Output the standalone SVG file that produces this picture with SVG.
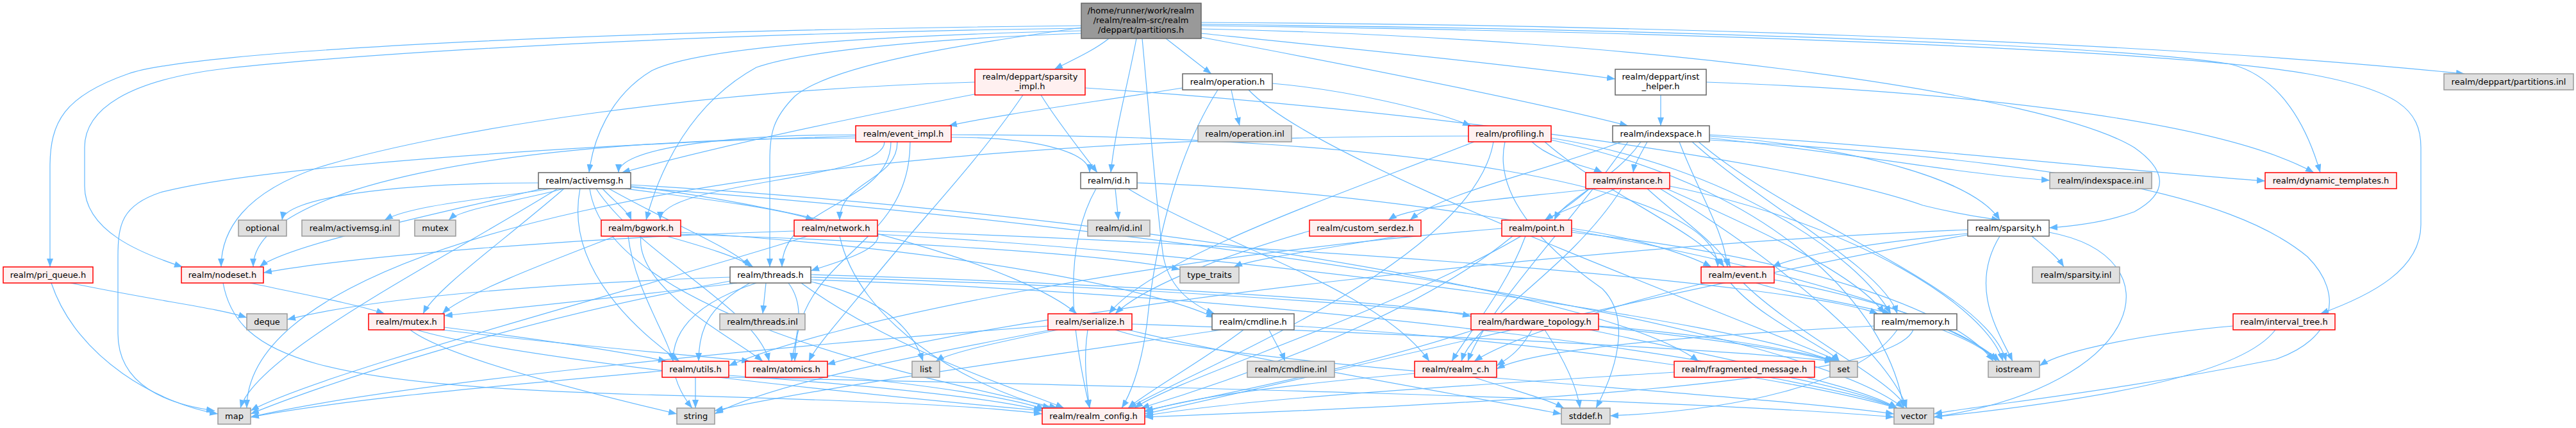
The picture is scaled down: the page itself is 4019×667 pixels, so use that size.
<svg xmlns="http://www.w3.org/2000/svg" width="4019" height="667" viewBox="0 0 4019 667">
<style>
.e{fill:none;stroke:#63B8FF;stroke-width:1.2;marker-end:url(#ah)}
.n rect{fill:#FFF0F0;stroke:#FF0000;stroke-width:1.5}
.w rect{fill:#FFFFFF;stroke:#666666;stroke-width:1.5}
.g rect{fill:#E0E0E0;stroke:#999999;stroke-width:1.5}
.m rect{fill:#999999;stroke:#666666;stroke-width:1.5}
text{font-family:"DejaVu Sans","Liberation Sans",sans-serif;font-size:13px;fill:#000;text-anchor:middle}
</style>
<defs>
<marker id="ah" markerWidth="13" markerHeight="10" refX="13" refY="5" orient="auto" markerUnits="userSpaceOnUse"><path d="M0,0 L13,5 L0,10 z" fill="#63B8FF"/></marker>
</defs>
<rect width="4019" height="667" fill="#FFFFFF"/>
<g id="edges">
<path class="e" d="M1687,40 C900,48 300,80 200,115 C100,150 78,190 78,260 L78,416"/>
<path class="e" d="M1687,44 C1100,52 600,80 350,107 C200,125 132,170 132,230 L132,290 C132,360 220,395 285,416"/>
<path class="e" d="M1687,48 C1400,55 1100,70 1017,110 C950,150 925,220 919,269"/>
<path class="e" d="M1687,52 C1450,60 1250,80 1180,105 C1080,160 1030,260 1008,343"/>
<path class="e" d="M1687,43 C1500,70 1300,100 1240,150 C1205,185 1201,210 1201,250 L1201,416"/>
<path class="e" d="M1730,60 C1705,80 1670,95 1645,108"/>
<path class="e" d="M1773,60 C1760,130 1740,200 1733,269"/>
<path class="e" d="M1782,60 C1795,200 1805,330 1815,400 C1825,450 1860,475 1895,489"/>
<path class="e" d="M1819,60 C1845,80 1870,100 1890,115"/>
<path class="e" d="M1874,52 C2100,75 2350,100 2520,123"/>
<path class="e" d="M1874,58 C2150,110 2400,160 2540,196"/>
<path class="e" d="M1874,35 C2500,38 3300,60 3845,115"/>
<path class="e" d="M1874,38 C2600,45 3300,70 3480,100 C3560,120 3600,200 3620,269"/>
<path class="e" d="M1874,40 C2700,50 3400,80 3600,115 C3740,140 3777,170 3777,230 L3777,350 C3777,420 3700,460 3620,489"/>
<path class="e" d="M1874,45 C2600,60 3200,150 3330,230 C3380,265 3385,300 3330,330 C3290,345 3240,352 3197,355"/>
<path class="e" d="M1521,128 C1100,140 700,200 500,260 C380,300 345,360 345,416"/>
<path class="e" d="M1525,146 C1400,170 1150,220 970,269"/>
<path class="e" d="M1624,148 C1650,190 1690,240 1712,269"/>
<path class="e" d="M1596,148 C1520,260 1420,360 1350,450 C1300,510 1270,545 1262,563"/>
<path class="e" d="M1693,137 C2200,170 2800,250 3000,320 C3060,335 3100,340 3120,343"/>
<path class="e" d="M1845,137 C1700,160 1550,180 1480,196"/>
<path class="e" d="M1921,140 C1925,160 1930,180 1934,196"/>
<path class="e" d="M1985,130 C2100,140 2230,170 2295,196"/>
<path class="e" d="M1900,140 C1830,250 1800,400 1790,500 C1780,580 1760,620 1750,636"/>
<path class="e" d="M1948,140 C2050,250 2600,450 2870,563"/>
<path class="e" d="M2591,148 L2591,196"/>
<path class="e" d="M2662,128 C3000,140 3450,180 3610,269"/>
<path class="e" d="M1335,212 C900,225 400,260 250,300 C190,320 184,350 184,400 L184,520 C184,600 260,630 335,640"/>
<path class="e" d="M1335,215 C771,215 395,295 395,416"/>
<path class="e" d="M1335,210 C1113,210 965,234 965,269"/>
<path class="e" d="M1380,221 C1380,282 1030,282 1030,343"/>
<path class="e" d="M1400,221 C1400,282 1310,282 1310,343"/>
<path class="e" d="M1390,221 C1390,318 1220,318 1220,416"/>
<path class="e" d="M1484,214 C1614,214 1700,236 1700,269"/>
<path class="e" d="M1484,210 C2202,210 2680,292 2680,416"/>
<path class="e" d="M1420,221 C1420,392 1240,392 1240,563"/>
<path class="e" d="M2390,221 C2420,250 2480,260 2500,269"/>
<path class="e" d="M2410,221 C2500,300 2650,360 2690,416"/>
<path class="e" d="M2420,215 C2700,260 2900,400 2950,489"/>
<path class="e" d="M2300,221 C2100,300 1800,400 1730,489"/>
<path class="e" d="M2330,221 C2300,400 1900,560 1760,636"/>
<path class="e" d="M2420,218 C2800,300 2950,500 2970,636"/>
<path class="e" d="M2291,212 C1147,212 385,382 385,636"/>
<path class="e" d="M2348,221 C2330,300 2400,380 2500,450 C2540,490 2530,560 2490,636"/>
<path class="e" d="M2570,221 C2560,240 2550,255 2548,269"/>
<path class="e" d="M2530,221 C2400,270 2250,300 2200,343"/>
<path class="e" d="M2560,221 C2520,280 2440,310 2425,343"/>
<path class="e" d="M2620,221 C2650,300 2690,360 2695,416"/>
<path class="e" d="M2640,221 C2750,320 2940,420 2960,489"/>
<path class="e" d="M2540,221 C2450,350 2320,480 2290,563"/>
<path class="e" d="M2667,212 C2900,230 3080,280 3120,343"/>
<path class="e" d="M2667,210 C3000,230 3300,265 3534,282"/>
<path class="e" d="M2667,215 C2900,240 3050,270 3198,281"/>
<path class="e" d="M2667,218 C3200,250 3480,300 3600,400 C3660,460 3640,530 3550,560 C3300,610 3100,630 3017,645"/>
<path class="e" d="M2650,221 C2800,350 3100,450 3130,563"/>
<path class="e" d="M840,285 C600,285 445,310 440,343"/>
<path class="e" d="M860,294 C760,310 640,320 600,343"/>
<path class="e" d="M880,294 C800,315 720,325 700,343"/>
<path class="e" d="M845,294 C700,330 450,380 405,416"/>
<path class="e" d="M880,294 C780,380 680,450 660,489"/>
<path class="e" d="M940,294 C960,315 980,330 985,343"/>
<path class="e" d="M975,294 C1100,310 1220,325 1270,343"/>
<path class="e" d="M950,294 C1050,350 1150,390 1170,416"/>
<path class="e" d="M930,294 C1000,400 1180,480 1200,563"/>
<path class="e" d="M905,294 C880,420 1000,520 1060,563"/>
<path class="e" d="M984,290 C1300,330 1600,420 1680,489"/>
<path class="e" d="M920,294 C950,500 1500,600 1650,636"/>
<path class="e" d="M984,288 C1700,330 2500,450 2650,563"/>
<path class="e" d="M870,294 C700,400 400,550 375,636"/>
<path class="e" d="M984,292 C1800,350 2800,500 2970,636"/>
<path class="e" d="M1740,294 L1745,343"/>
<path class="e" d="M1760,294 C1900,380 2150,450 2230,563"/>
<path class="e" d="M1774,285 C2300,300 3000,450 3120,563"/>
<path class="e" d="M1710,294 C1650,400 1680,550 1700,636"/>
<path class="e" d="M2490,294 C2350,310 2200,320 2166,343"/>
<path class="e" d="M2520,294 C2480,315 2430,330 2410,343"/>
<path class="e" d="M2570,294 C2620,340 2680,380 2700,416"/>
<path class="e" d="M2600,294 C2750,360 2900,430 2940,489"/>
<path class="e" d="M2530,294 C2450,420 2300,500 2280,563"/>
<path class="e" d="M2480,294 C2300,450 1850,580 1770,636"/>
<path class="e" d="M2590,294 C2800,420 2950,560 2975,636"/>
<path class="e" d="M2605,290 C2900,350 3100,480 3125,563"/>
<path class="e" d="M1040,368 C1100,385 1150,400 1175,416"/>
<path class="e" d="M1000,368 C990,450 1150,530 1190,563"/>
<path class="e" d="M960,368 C850,410 720,460 690,489"/>
<path class="e" d="M1062,362 C1500,390 1800,450 1895,495"/>
<path class="e" d="M980,368 C990,450 1040,520 1050,563"/>
<path class="e" d="M1062,365 C1500,380 1750,400 1841,420"/>
<path class="e" d="M1239,360 C900,370 550,400 411,425"/>
<path class="e" d="M1369,362 C1380,390 1300,410 1265,422"/>
<path class="e" d="M1369,360 C2000,380 2800,440 2930,489"/>
<path class="e" d="M1260,368 C1000,450 500,580 391,640"/>
<path class="e" d="M1310,368 C1340,500 1500,600 1640,636"/>
<path class="e" d="M1369,365 C2000,400 2700,500 2860,563"/>
<path class="e" d="M2043,360 C1900,400 1780,450 1740,489"/>
<path class="e" d="M2217,362 C2050,390 1950,405 1925,416"/>
<path class="e" d="M2343,356 C1800,400 1300,500 1137,570"/>
<path class="e" d="M2452,362 C2800,400 3050,480 3110,563"/>
<path class="e" d="M2360,368 C2200,500 1900,600 1780,636"/>
<path class="e" d="M2452,356 C2550,370 2630,395 2670,416"/>
<path class="e" d="M2380,368 C2350,450 2290,520 2265,563"/>
<path class="e" d="M3070,364 C2900,380 2800,400 2765,416"/>
<path class="e" d="M3170,368 C3190,385 3210,400 3220,416"/>
<path class="e" d="M3120,368 C3070,450 3120,520 3140,563"/>
<path class="e" d="M3070,358 C2500,380 1600,480 1290,568"/>
<path class="e" d="M3197,362 C3400,400 3350,600 3017,650"/>
<path class="e" d="M3070,366 C2600,450 2000,600 1786,645"/>
<path class="e" d="M110,441 C250,470 340,480 385,495"/>
<path class="e" d="M80,441 C120,560 250,630 340,645"/>
<path class="e" d="M390,441 C480,460 560,475 600,489"/>
<path class="e" d="M348,441 C370,560 500,600 1000,615 C1400,625 1550,635 1626,645"/>
<path class="e" d="M1139,432 C900,440 600,460 448,498"/>
<path class="e" d="M1150,441 C1000,460 800,480 693,492"/>
<path class="e" d="M1195,441 L1190,489"/>
<path class="e" d="M1170,441 C1100,480 1090,520 1090,563"/>
<path class="e" d="M1230,441 C1260,480 1240,530 1235,563"/>
<path class="e" d="M1180,441 C1000,500 1050,600 1080,636"/>
<path class="e" d="M1139,438 C800,500 500,600 391,645"/>
<path class="e" d="M1265,432 C2000,450 2700,520 2860,563"/>
<path class="e" d="M1265,428 C1700,440 2200,470 2295,493"/>
<path class="e" d="M1250,441 C1400,550 1600,610 1660,636"/>
<path class="e" d="M1265,436 C2000,460 2800,560 2960,636"/>
<path class="e" d="M1265,439 C1360,460 1420,500 1440,563"/>
<path class="e" d="M2740,441 C2800,460 2900,475 2950,489"/>
<path class="e" d="M2700,441 C2750,500 2850,540 2870,563"/>
<path class="e" d="M2720,441 C2800,520 2950,590 2975,636"/>
<path class="e" d="M2768,436 C2950,470 3080,520 3115,563"/>
<path class="e" d="M2660,441 C2500,480 2350,530 2300,563"/>
<path class="e" d="M693,510 C850,530 980,550 1040,563"/>
<path class="e" d="M690,514 C900,540 1100,555 1170,563"/>
<path class="e" d="M650,514 C800,560 1400,620 1626,640"/>
<path class="e" d="M640,514 C700,560 950,620 1056,645"/>
<path class="e" d="M1650,514 C1550,535 1480,550 1460,563"/>
<path class="e" d="M1697,514 C1690,560 1695,600 1700,636"/>
<path class="e" d="M1640,514 C1400,560 1200,600 1115,645"/>
<path class="e" d="M1635,508 C1200,540 600,600 391,650"/>
<path class="e" d="M1740,514 C1900,570 2700,610 2955,645"/>
<path class="e" d="M1766,505 C2200,520 2700,545 2860,563"/>
<path class="e" d="M1760,514 C1950,560 2250,610 2436,645"/>
<path class="e" d="M1980,514 C1990,535 2000,550 2005,563"/>
<path class="e" d="M1940,514 C1880,560 1790,610 1760,636"/>
<path class="e" d="M1905,514 C1600,560 1300,600 1115,640"/>
<path class="e" d="M2019,508 C2400,530 2800,590 2960,636"/>
<path class="e" d="M2390,514 C2370,550 2350,560 2335,570"/>
<path class="e" d="M2410,514 C2440,560 2460,600 2465,636"/>
<path class="e" d="M2494,508 C2650,520 2800,545 2865,563"/>
<path class="e" d="M2480,514 C2700,560 2900,600 2960,636"/>
<path class="e" d="M2300,514 C2100,580 1850,625 1786,640"/>
<path class="e" d="M3030,514 C3070,530 3100,545 3115,563"/>
<path class="e" d="M2924,508 C2700,520 2400,540 2335,575"/>
<path class="e" d="M2985,514 C2950,600 2300,630 1786,650"/>
<path class="e" d="M2960,514 C2900,600 2700,640 2512,648"/>
<path class="e" d="M3484,508 C3350,520 3220,545 3182,570"/>
<path class="e" d="M3550,514 C3500,580 3300,620 3017,650"/>
<path class="e" d="M1085,588 L1085,636"/>
<path class="e" d="M1033,578 C800,600 550,620 391,650"/>
<path class="e" d="M1137,585 C1350,600 1550,620 1626,640"/>
<path class="e" d="M1137,588 C1700,600 2600,620 2955,650"/>
<path class="e" d="M1291,585 C1450,600 1580,620 1630,638"/>
<path class="e" d="M2207,582 C2000,600 1850,620 1786,642"/>
<path class="e" d="M2300,588 C2350,605 2410,620 2440,636"/>
<path class="e" d="M2612,580 C2300,600 1950,620 1786,648"/>
<path class="e" d="M2760,588 C2850,605 2920,620 2960,636"/>
</g>
<g id="node-main" class="m"><rect x="1687" y="5" width="187" height="55"/><text x="1780" y="21">/home/runner/work/realm</text><text x="1780" y="36">/realm/realm-src/realm</text><text x="1780" y="51">/deppart/partitions.h</text></g>
<g id="node-sparsity_impl" class="n"><rect x="1521" y="108" width="172" height="40"/><text x="1607" y="124">realm/deppart/sparsity</text><text x="1607" y="139">_impl.h</text></g>
<g id="node-operation" class="w"><rect x="1845" y="115" width="140" height="25"/><text x="1915" y="132">realm/operation.h</text></g>
<g id="node-inst_helper" class="w"><rect x="2520" y="108" width="142" height="40"/><text x="2591" y="124">realm/deppart/inst</text><text x="2591" y="139">_helper.h</text></g>
<g id="node-partitions_inl" class="g"><rect x="3813" y="115" width="202" height="25"/><text x="3914" y="132">realm/deppart/partitions.inl</text></g>
<g id="node-event_impl" class="n"><rect x="1335" y="196" width="149" height="25"/><text x="1409.5" y="213">realm/event_impl.h</text></g>
<g id="node-operation_inl" class="g"><rect x="1869" y="196" width="146" height="25"/><text x="1942" y="213">realm/operation.inl</text></g>
<g id="node-profiling" class="n"><rect x="2291" y="196" width="129" height="25"/><text x="2355.5" y="213">realm/profiling.h</text></g>
<g id="node-indexspace" class="w"><rect x="2516" y="196" width="151" height="25"/><text x="2591.5" y="213">realm/indexspace.h</text></g>
<g id="node-activemsg" class="w"><rect x="840" y="269" width="144" height="25"/><text x="912" y="286">realm/activemsg.h</text></g>
<g id="node-id" class="w"><rect x="1686" y="269" width="88" height="25"/><text x="1730" y="286">realm/id.h</text></g>
<g id="node-instance" class="n"><rect x="2474" y="269" width="131" height="25"/><text x="2539.5" y="286">realm/instance.h</text></g>
<g id="node-indexspace_inl" class="g"><rect x="3198" y="269" width="159" height="25"/><text x="3277.5" y="286">realm/indexspace.inl</text></g>
<g id="node-dynamic_templates" class="n"><rect x="3534" y="269" width="205" height="25"/><text x="3636.5" y="286">realm/dynamic_templates.h</text></g>
<g id="node-optional" class="g"><rect x="372" y="343" width="75" height="25"/><text x="409.5" y="360">optional</text></g>
<g id="node-activemsg_inl" class="g"><rect x="471" y="343" width="152" height="25"/><text x="547" y="360">realm/activemsg.inl</text></g>
<g id="node-mutex" class="g"><rect x="647" y="343" width="64" height="25"/><text x="679" y="360">mutex</text></g>
<g id="node-bgwork" class="n"><rect x="938" y="343" width="124" height="25"/><text x="1000" y="360">realm/bgwork.h</text></g>
<g id="node-network" class="n"><rect x="1239" y="343" width="130" height="25"/><text x="1304" y="360">realm/network.h</text></g>
<g id="node-id_inl" class="g"><rect x="1697" y="343" width="97" height="25"/><text x="1745.5" y="360">realm/id.inl</text></g>
<g id="node-custom_serdez" class="n"><rect x="2043" y="343" width="174" height="25"/><text x="2130" y="360">realm/custom_serdez.h</text></g>
<g id="node-point" class="n"><rect x="2343" y="343" width="109" height="25"/><text x="2397.5" y="360">realm/point.h</text></g>
<g id="node-sparsity" class="w"><rect x="3070" y="343" width="127" height="25"/><text x="3133.5" y="360">realm/sparsity.h</text></g>
<g id="node-pri_queue" class="n"><rect x="5" y="416" width="140" height="25"/><text x="75" y="433">realm/pri_queue.h</text></g>
<g id="node-nodeset" class="n"><rect x="283" y="416" width="128" height="25"/><text x="347" y="433">realm/nodeset.h</text></g>
<g id="node-threads" class="w"><rect x="1139" y="416" width="126" height="25"/><text x="1202" y="433">realm/threads.h</text></g>
<g id="node-type_traits" class="g"><rect x="1841" y="416" width="92" height="25"/><text x="1887" y="433">type_traits</text></g>
<g id="node-event" class="n"><rect x="2654" y="416" width="114" height="25"/><text x="2711" y="433">realm/event.h</text></g>
<g id="node-sparsity_inl" class="g"><rect x="3171" y="416" width="136" height="25"/><text x="3239" y="433">realm/sparsity.inl</text></g>
<g id="node-deque" class="g"><rect x="385" y="489" width="63" height="25"/><text x="416.5" y="506">deque</text></g>
<g id="node-mutex_h" class="n"><rect x="575" y="489" width="118" height="25"/><text x="634" y="506">realm/mutex.h</text></g>
<g id="node-threads_inl" class="g"><rect x="1123" y="489" width="133" height="25"/><text x="1189.5" y="506">realm/threads.inl</text></g>
<g id="node-serialize" class="n"><rect x="1635" y="489" width="131" height="25"/><text x="1700.5" y="506">realm/serialize.h</text></g>
<g id="node-cmdline" class="w"><rect x="1891" y="489" width="128" height="25"/><text x="1955" y="506">realm/cmdline.h</text></g>
<g id="node-hardware_topology" class="n"><rect x="2295" y="489" width="199" height="25"/><text x="2394.5" y="506">realm/hardware_topology.h</text></g>
<g id="node-memory" class="w"><rect x="2924" y="489" width="129" height="25"/><text x="2988.5" y="506">realm/memory.h</text></g>
<g id="node-interval_tree" class="n"><rect x="3484" y="489" width="159" height="25"/><text x="3563.5" y="506">realm/interval_tree.h</text></g>
<g id="node-utils" class="n"><rect x="1033" y="563" width="104" height="25"/><text x="1085" y="580">realm/utils.h</text></g>
<g id="node-atomics" class="n"><rect x="1163" y="563" width="128" height="25"/><text x="1227" y="580">realm/atomics.h</text></g>
<g id="node-list" class="g"><rect x="1423" y="563" width="43" height="25"/><text x="1444.5" y="580">list</text></g>
<g id="node-cmdline_inl" class="g"><rect x="1946" y="563" width="136" height="25"/><text x="2014" y="580">realm/cmdline.inl</text></g>
<g id="node-realm_c" class="n"><rect x="2207" y="563" width="128" height="25"/><text x="2271" y="580">realm/realm_c.h</text></g>
<g id="node-fragmented_message" class="n"><rect x="2612" y="563" width="219" height="25"/><text x="2721.5" y="580">realm/fragmented_message.h</text></g>
<g id="node-set" class="g"><rect x="2855" y="563" width="43" height="25"/><text x="2876.5" y="580">set</text></g>
<g id="node-iostream" class="g"><rect x="3102" y="563" width="80" height="25"/><text x="3142" y="580">iostream</text></g>
<g id="node-map" class="g"><rect x="340" y="636" width="51" height="25"/><text x="365.5" y="653">map</text></g>
<g id="node-string" class="g"><rect x="1056" y="636" width="59" height="25"/><text x="1085.5" y="653">string</text></g>
<g id="node-realm_config" class="n"><rect x="1626" y="636" width="160" height="25"/><text x="1706" y="653">realm/realm_config.h</text></g>
<g id="node-stddef" class="g"><rect x="2436" y="636" width="76" height="25"/><text x="2474" y="653">stddef.h</text></g>
<g id="node-vector" class="g"><rect x="2955" y="636" width="62" height="25"/><text x="2986" y="653">vector</text></g>
</svg>
